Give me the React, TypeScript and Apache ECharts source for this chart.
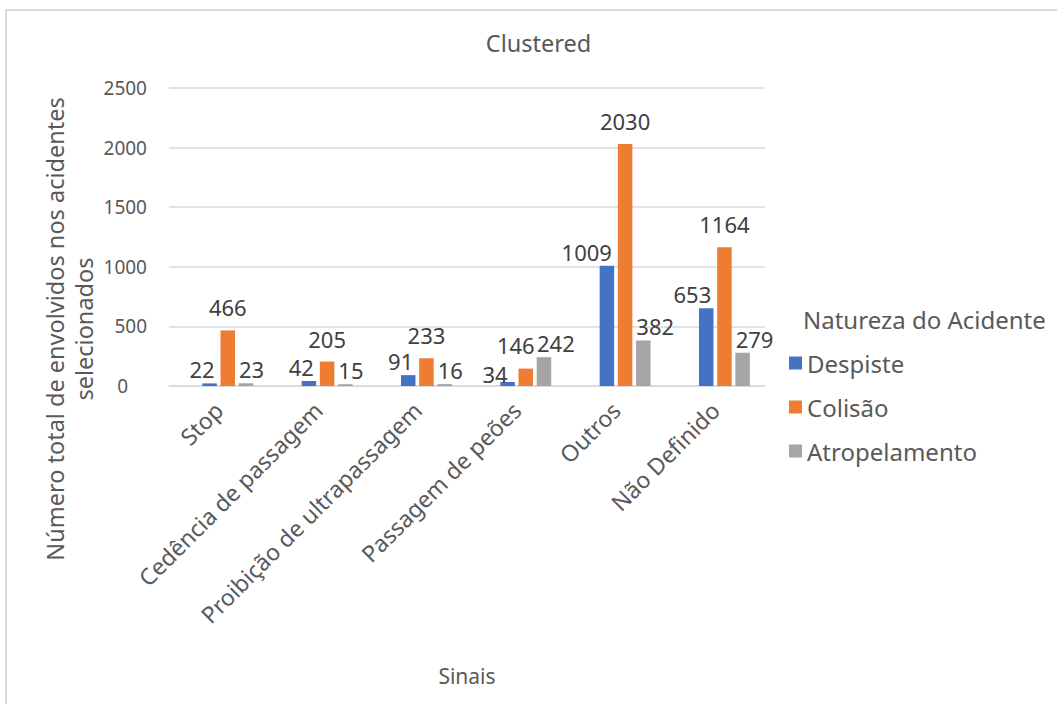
import React, { useEffect, useRef } from "react";
import * as echarts from "echarts";

const categories = [
  "Stop",
  "Cedência de passagem",
  "Proibição de ultrapassagem",
  "Passagem de peões",
  "Outros",
  "Não Definido",
];
const despiste = [22, 42, 91, 34, 1009, 653];
const colisao = [466, 205, 233, 146, 2030, 1164];
const atropelamento = [23, 15, 16, 242, 382, 279];
const emptySeries = [0, 0, 0, 0, 0, 0];
const seriesNames = ["Despiste", "Colisão", "Atropelamento"];
const yTicks = { min: 0, max: 2500, interval: 500 };

const FONT = "Noto Sans";
const TEXT = "#595959";
const LABEL = "#404040";
const GRID = "#D9D9D9";
const COLORS = ["#4472C4", "#ED7D31", "#A5A5A5"];

export default function App() {
  const ref = useRef<HTMLDivElement>(null);
  useEffect(() => {
    if (!ref.current) return;
    const chart = echarts.init(ref.current, null, { renderer: "svg" });
    const barBase = {
      type: "bar",
      barWidth: 14.5,
      barGap: "25.5%",
    };
    const labelBase = {
      show: true,
      position: "top",
      fontFamily: FONT,
      fontSize: 22,
      color: LABEL,
    };
    // In "Passagem de peões" the reference moves the Despiste and Colisão labels left
    const despisteData = despiste.map((v, i) =>
      i === 3 ? { value: v, label: { offset: [0, 6] } } : v
    );
    const colisaoData = colisao.map((v, i) =>
      i === 3 ? { value: v, label: { offset: [-10, -1] } } : v
    );
    chart.setOption({
      animation: false,
      backgroundColor: "#ffffff",
      textStyle: { fontFamily: FONT },
      graphic: [
        {
          type: "rect",
          shape: { x: 6, y: 10, width: 1200, height: 900 },
          style: { fill: "none", stroke: GRID, lineWidth: 2 },
          silent: true,
        },
        {
          type: "text",
          x: 538.5,
          y: 43,
          style: {
            text: "Clustered",
            fontFamily: FONT,
            fontSize: 23.5,
            fill: TEXT,
            align: "center",
            verticalAlign: "middle",
          },
        },
        {
          type: "text",
          x: 69,
          y: 329,
          rotation: Math.PI / 2,
          style: {
            text: "Número total de envolvidos nos acidentes\nselecionados",
            fontFamily: FONT,
            fontSize: 23.5,
            lineHeight: 29,
            fill: TEXT,
            align: "center",
            verticalAlign: "middle",
          },
        },
        {
          type: "text",
          x: 803,
          y: 319,
          style: {
            text: "Natureza do Acidente",
            fontFamily: FONT,
            fontSize: 24,
            fill: TEXT,
            align: "left",
            verticalAlign: "middle",
          },
        },
      ],
      legend: {
        data: seriesNames,
        orient: "vertical",
        left: 784,
        top: 345,
        itemWidth: 13,
        itemHeight: 13,
        itemGap: 18,
        icon: "rect",
        textStyle: {
          fontFamily: FONT,
          fontSize: 24,
          color: TEXT,
          lineHeight: 26,
          height: 26,
        },
      },
      grid: { left: 169, right: 292, top: 88, bottom: 318 },
      xAxis: {
        type: "category",
        data: categories,
        name: "Sinais",
        nameLocation: "middle",
        nameGap: 279,
        nameTextStyle: { fontFamily: FONT, fontSize: 21, color: TEXT },
        axisLine: { show: true, lineStyle: { color: GRID, width: 1.5 } },
        axisTick: { show: false },
        axisLabel: {
          interval: 0,
          rotate: 45,
          margin: 20,
          fontFamily: FONT,
          fontSize: 23,
          color: TEXT,
        },
      },
      yAxis: {
        type: "value",
        min: yTicks.min,
        max: yTicks.max,
        interval: yTicks.interval,
        axisLine: { show: false },
        axisTick: { show: false },
        splitLine: { lineStyle: { color: GRID, width: 1.5 } },
        axisLabel: {
          margin: 22,
          fontFamily: FONT,
          fontSize: 19,
          color: TEXT,
          formatter: (v: number) => (v === 0 ? "{z|0}" : String(v)),
          rich: {
            z: {
              fontFamily: FONT,
              fontSize: 19,
              color: TEXT,
              padding: [0, 19, 0, 0],
            },
          },
        },
      },
      series: [
        {
          ...barBase,
          name: "_spacer",
          data: emptySeries,
          itemStyle: { color: "transparent" },
          label: { show: false },
          silent: true,
        },
        {
          ...barBase,
          name: seriesNames[0],
          data: despisteData,
          itemStyle: { color: COLORS[0] },
          label: { ...labelBase, align: "right", offset: [5, 0], distance: 3 },
        },
        {
          ...barBase,
          name: seriesNames[1],
          data: colisaoData,
          itemStyle: { color: COLORS[1] },
          label: { ...labelBase, distance: 12 },
        },
        {
          ...barBase,
          name: seriesNames[2],
          data: atropelamento,
          itemStyle: { color: COLORS[2] },
          label: { ...labelBase, align: "left", offset: [-7, 0], distance: 3 },
        },
      ],
    });
    return () => chart.dispose();
  }, []);
  return (
    <div
      ref={ref}
      style={{
        position: "fixed",
        left: 0,
        top: 0,
        width: 1057,
        height: 704,
        background: "#fff",
      }}
    />
  );
}
